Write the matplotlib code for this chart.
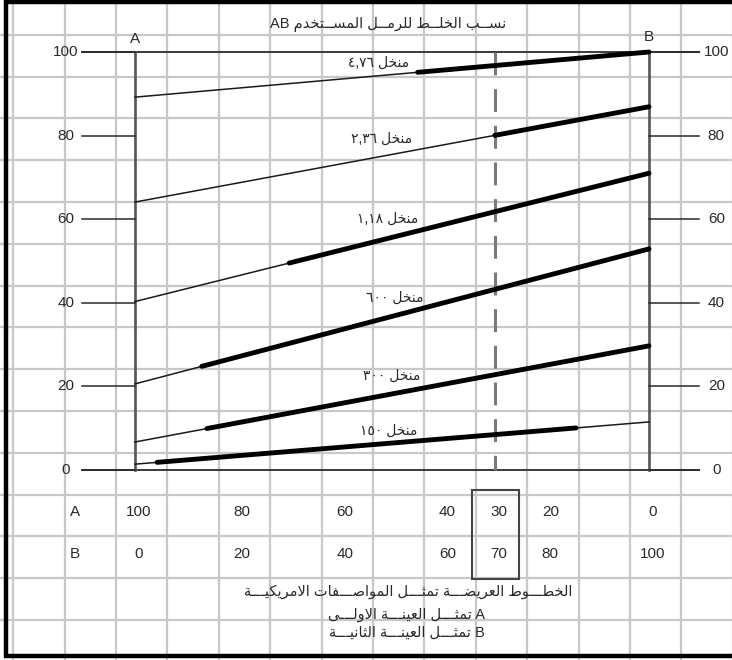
"""Sand blending chart: percent passing per sieve vs mix ratio of samples A and B."""
import numpy as np
import matplotlib
matplotlib.use("Agg")
import matplotlib.pyplot as plt

FONT = ["Liberation Sans", "DejaVu Sans"]
plt.rcParams["font.family"] = FONT

# data
sieves = ["٤,٧٦", "٢,٣٦", "١,١٨", "٦٠٠", "٣٠٠", "١٥٠"]
pass_a = [89.2, 64.1, 40.3, 20.6, 6.7, 1.4]      # % passing at 100% A
pass_b = [100.0, 86.9, 71.0, 52.9, 29.7, 11.5]   # % passing at 100% B
spec_from = [55, 70, 30, 13, 14, 4.3]            # %B where the wide (spec) part starts
spec_to = [100, 100, 100, 100, 100, 85.8]        # %B where it ends
label_pos = [(47.3, 97.4), (47.9, 79.2), (49.2, 60.1), (50.6, 41.3), (50.0, 22.5), (49.4, 9.3)]
y_ticks = [0, 20, 40, 60, 80, 100]
row_a = [100, 80, 60, 40, 30, 20, 0]
row_b = [0, 20, 40, 60, 70, 80, 100]
chosen_b = 70

title = "نســب الخلــط للرمــل المســتخدم AB"
notes = ["الخطـــوط العريضـــة تمثـــل المواصـــفات الامريكيـــة",
         "A تمثـــل العينـــة الاولـــى",
         "B تمثـــل العينـــة الثانيـــة"]

# minimal arabic shaping (presentation forms) + visual order, matplotlib has no bidi
FORMS = {"ا": (0xFE8D, 2), "ب": (0xFE8F, 4), "ة": (0xFE93, 2), "ت": (0xFE95, 4),
         "ث": (0xFE99, 4), "خ": (0xFEA5, 4), "د": (0xFEA9, 2), "ر": (0xFEAD, 2),
         "س": (0xFEB1, 4), "ص": (0xFEB9, 4), "ض": (0xFEBD, 4), "ط": (0xFEC1, 4),
         "ع": (0xFEC9, 4), "ف": (0xFED1, 4), "ك": (0xFED9, 4), "ل": (0xFEDD, 4),
         "م": (0xFEE1, 4), "ن": (0xFEE5, 4), "و": (0xFEED, 2), "ى": (0xFEEF, 2),
         "ي": (0xFEF1, 4), "لا": (0xFEFB, 2)}
TATWEEL = "ـ"


def shape_word(word):
    chars, i = [], 0
    while i < len(word):
        if word[i:i + 2] == "لا":
            chars.append("لا"); i += 2
        else:
            chars.append(word[i]); i += 1
    dual = lambda c: c == TATWEEL or (c in FORMS and FORMS[c][1] == 4)
    joins = lambda c: c == TATWEEL or c in FORMS
    out = []
    for k, c in enumerate(chars):
        if c not in FORMS:
            out.append(c); continue
        base, n = FORMS[c]
        prev = k > 0 and dual(chars[k - 1])
        nxt = n == 4 and k + 1 < len(chars) and joins(chars[k + 1])
        off = 3 if (prev and nxt) else 1 if prev else 2 if nxt else 0
        out.append(chr(base + off))
    return "".join(reversed(out))


def ar(text):
    words = text.split(" ")
    words = [shape_word(w) if any(ch in FORMS or ch == TATWEEL for ch in w) else w for w in words]
    return " ".join(reversed(words))


fig = plt.figure(figsize=(7.32, 6.6), dpi=100)
ax = fig.add_axes([0, 0, 1, 1])
ax.set_xlim(-26.26, 116.15)
ax.set_ylim(-45.45, 112.44)
ax.axis("off")

# background grid
for gx in np.arange(-23.7, 117, 10):
    ax.axvline(gx, color="#c8c8c8", lw=1.6, zorder=0)
for gy in np.arange(-35.9, 112, 10):
    ax.axhline(gy, color="#c8c8c8", lw=1.6, zorder=0)

dark = "#2a2a2a"
fs = 11
# frame lines 0 and 100, the A and B axes, side ticks
ax.plot([-10.3, 109.7], [100, 100], color=dark, lw=1.3, zorder=2)
ax.plot([-10.3, 109.7], [0, 0], color=dark, lw=1.3, zorder=2)
ax.plot([0, 0], [0, 100], color="#555555", lw=1.9, zorder=2)
ax.plot([100, 100], [0, 100], color="#555555", lw=1.9, zorder=2)
for t in y_ticks:
    ax.plot([-10.3, 0], [t, t], color=dark, lw=1.1, zorder=2)
    ax.plot([100, 109.7], [t, t], color=dark, lw=1.1, zorder=2)
    ax.text(-13.4, t, str(t), ha="center", va="center", fontsize=fs, color=dark)
    ax.text(113.1, t, str(t), ha="center", va="center", fontsize=fs, color=dark)
ax.text(0, 103.2, "A", ha="center", va="center", fontsize=fs, color=dark)
ax.text(100, 103.6, "B", ha="center", va="center", fontsize=fs, color=dark)
ax.text(49.2, 106.5, ar(title), ha="center", va="center", fontsize=10.5, color=dark)

# chosen blend
ax.plot([chosen_b, chosen_b], [100, 0], color="#7a7a7a", lw=2.2,
        linestyle=(0, (7.5, 4.5)), zorder=3)

for name, ya, yb, s0, s1, (lx, ly) in zip(sieves, pass_a, pass_b, spec_from, spec_to, label_pos):
    ax.plot([0, 100], [ya, yb], color="#1a1a1a", lw=1.1, zorder=4)
    xs = np.array([s0, s1])
    ax.plot(xs, ya + (yb - ya) * xs / 100, color="black", lw=3.5,
            solid_capstyle="round", zorder=5)
    ax.text(lx, ly, ar("منخل " + name), ha="center", va="center", fontsize=10, color=dark)

# mix ratio table
ax.text(-11.7, -10, "A", ha="center", va="center", fontsize=fs, color=dark)
ax.text(-11.7, -20, "B", ha="center", va="center", fontsize=fs, color=dark)
for a, b in zip(row_a, row_b):
    ax.text(b + 0.8, -10, str(a), ha="center", va="center", fontsize=fs, color=dark)
    ax.text(b + 0.8, -20, str(b), ha="center", va="center", fontsize=fs, color=dark)
ax.add_patch(plt.Rectangle((chosen_b - 4.5, -26.1), 9.2, 21.3, fill=False,
                           ec="#444444", lw=1.5, zorder=3))

for txt, yy, xx in zip(notes, [-29.2, -34.7, -39.0], [53.1, 52.8, 52.8]):
    ax.text(xx, yy, ar(txt), ha="center", va="center", fontsize=10.5, color=dark)

# outer border (open on the right, as in the scan)
ax.plot([-25.5, 117], [111.9, 111.9], color="black", lw=3.2, solid_capstyle="butt", zorder=6)
ax.plot([-25.1, -25.1], [113, -44.9], color="black", lw=3.2, solid_capstyle="butt", zorder=6)
ax.plot([-25.5, 117], [-44.6, -44.6], color="black", lw=3.2, solid_capstyle="butt", zorder=6)

fig.savefig("out.png", dpi=100)
